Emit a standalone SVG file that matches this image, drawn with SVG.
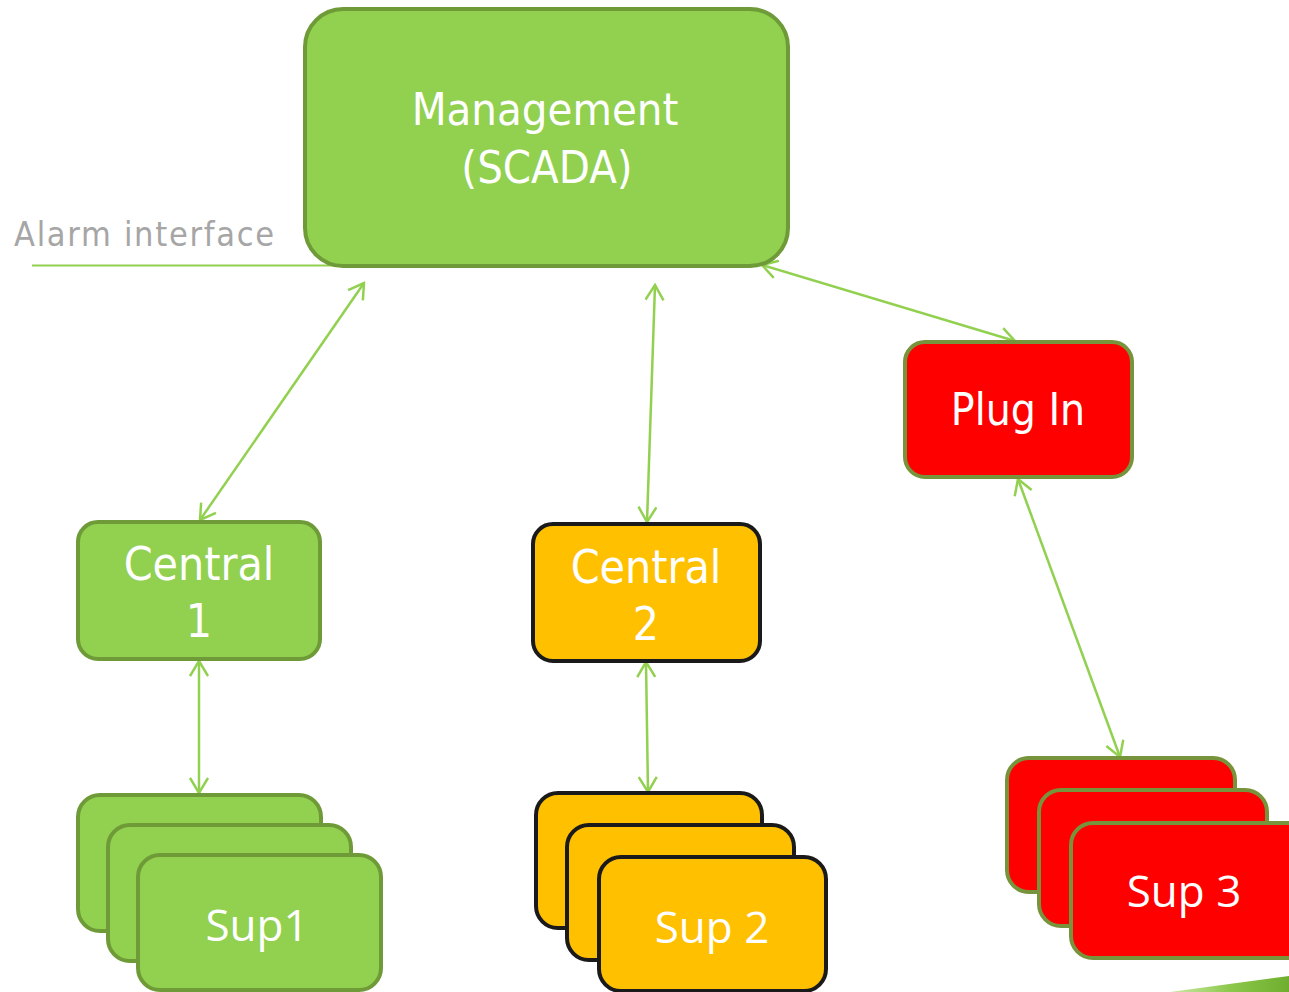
<svg xmlns="http://www.w3.org/2000/svg" width="1289" height="992" viewBox="0 0 1289 992">
  <style>
    .lbl { font-family: "DejaVu Sans Condensed", "DejaVu Sans", sans-serif; font-stretch: condensed; fill: #ffffff; text-anchor: middle; }
    .sup { font-family: "Open Sans", "Noto Sans", sans-serif; fill: #ffffff; text-anchor: middle; font-size: 44px; }
    .green { fill: #92d050; stroke: #6e9a38; stroke-width: 4; }
    .amber { fill: #ffc000; stroke: #1a1a1a; stroke-width: 4; }
    .red { fill: #ff0000; stroke: #77933c; stroke-width: 4; }
    .link { stroke: #92d050; stroke-width: 2.5; fill: none; marker-start: url(#tip); marker-end: url(#tip); }
  </style>
  <defs>
    <marker id="tip" viewBox="0 0 18 20" markerWidth="18" markerHeight="20" refX="16" refY="10" markerUnits="userSpaceOnUse" orient="auto-start-reverse">
      <path d="M1,1 L16,10 L1,19" fill="none" stroke="#92d050" stroke-width="2.5"/>
    </marker>
    <linearGradient id="swoosh" x1="0" y1="0" x2="1" y2="0">
      <stop offset="0" stop-color="#a6d86a" stop-opacity="0.6"/>
      <stop offset="0.5" stop-color="#8cc84b"/>
      <stop offset="1" stop-color="#6fae2e"/>
    </linearGradient>
  </defs>

  <rect width="1289" height="992" fill="#ffffff"/>

  <!-- decorative swoosh in the corner -->
  <path d="M1170,992 L1289,976 L1289,992 Z" fill="url(#swoosh)"/>

  <!-- alarm interface feed -->
  <g id="alarm">
    <text x="14" y="246" font-family="DejaVu Sans Condensed, DejaVu Sans, sans-serif" font-stretch="condensed" font-size="34" fill="#a6a6a6" textLength="260">Alarm interface</text>
    <line x1="32" y1="265.5" x2="340" y2="265.5" stroke="#92d050" stroke-width="2"/>
  </g>

  <g id="connectors">
    <line class="link" x1="364" y1="283" x2="200" y2="520"/>
    <line class="link" x1="655" y1="285" x2="647" y2="522"/>
    <line class="link" x1="762" y1="265" x2="1015" y2="341"/>
    <line class="link" x1="1018" y1="479" x2="1120" y2="757"/>
    <line class="link" x1="199" y1="661" x2="199" y2="793"/>
    <line class="link" x1="646" y1="662" x2="648" y2="792"/>
  </g>

  <g id="management">
    <rect class="green" x="305" y="9" width="483" height="257" rx="38"/>
    <text class="lbl" x="545" y="125" font-size="45">Management</text>
    <text class="lbl" x="547" y="183" font-size="45">(SCADA)</text>
  </g>

  <g id="plugin">
    <rect class="red" x="905" y="342" width="227" height="135" rx="20"/>
    <text class="lbl" x="1018" y="425" font-size="44">Plug In</text>
  </g>

  <g id="central1">
    <rect class="green" x="78" y="522" width="242" height="137" rx="20"/>
    <text class="lbl" x="199" y="580" font-size="46">Central</text>
    <text class="lbl" x="199" y="637" font-size="46">1</text>
  </g>

  <g id="central2">
    <rect class="amber" x="533" y="524" width="227" height="137" rx="20"/>
    <text class="lbl" x="646" y="583" font-size="46">Central</text>
    <text class="lbl" x="646" y="640" font-size="46">2</text>
  </g>

  <g id="sup1">
    <rect class="green" x="78" y="795" width="243" height="136" rx="22"/>
    <rect class="green" x="108" y="825" width="243" height="136" rx="22"/>
    <rect class="green" x="138" y="855" width="243" height="135" rx="22"/>
    <text class="sup" x="257" y="941">Sup1</text>
  </g>

  <g id="sup2">
    <rect class="amber" x="536" y="793" width="226" height="135" rx="22"/>
    <rect class="amber" x="567" y="825" width="227" height="135" rx="22"/>
    <rect class="amber" x="599" y="857" width="227" height="134" rx="22"/>
    <text class="sup" x="712" y="943">Sup 2</text>
  </g>

  <g id="sup3">
    <rect class="red" x="1007" y="758" width="228" height="134" rx="22"/>
    <rect class="red" x="1039" y="790" width="228" height="136" rx="22"/>
    <rect class="red" x="1071" y="823" width="240" height="135" rx="22"/>
    <text class="sup" x="1184" y="907">Sup 3</text>
  </g>
</svg>
